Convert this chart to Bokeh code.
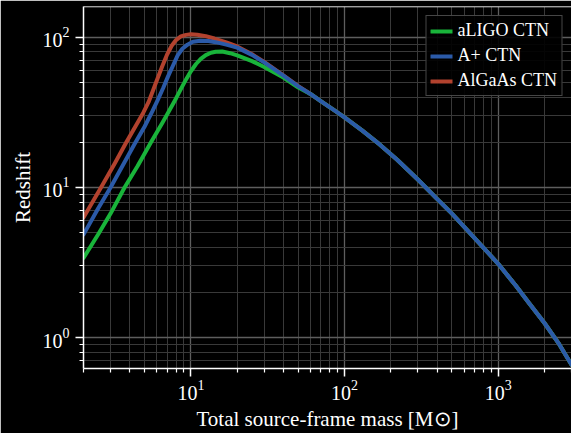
from bokeh.plotting import figure
from bokeh.models import FixedTicker, Legend, LegendItem, Span
from bokeh.embed import file_html
from bokeh.resources import INLINE

# ---- data ----
tail_mass = [60, 70, 85, 100, 130, 170, 220, 300, 400, 500, 700, 1000, 1300, 1600, 2000, 2500, 3000]
tail_z = [42.0, 37.6, 32.9, 29.3, 24.0, 19.3, 15.3, 11.3, 8.4, 6.7, 4.62, 3.1, 2.22, 1.68, 1.25, 0.9, 0.66]

aligo_mass = [2, 2.5, 3, 3.7, 4.5, 5.5, 6.5, 7.0, 7.5, 8.0, 8.6, 9.3, 10, 10.8, 11.6, 12.5, 13.5, 14.5, 16, 18, 20, 25, 30, 40, 50]
aligo_z = [3.39, 4.9, 6.7, 10, 13.9, 20, 26.8, 30.6, 34.8, 39.2, 45.2, 52.5, 59.5, 66.5, 72.0, 76.3, 79, 80.3, 80.5, 78.5, 76, 69.5, 63.5, 54, 46.4]

aplus_mass = [2, 2.5, 3.0, 3.6, 4.3, 5.0, 5.6, 6.1, 6.6, 7.1, 7.6, 8.2, 8.8, 9.5, 10.3, 11.5, 13, 14.5, 17, 20, 25, 30, 40, 50]
aplus_z = [4.85, 7.3, 10, 14, 19.5, 25.5, 32, 38.5, 46, 55, 64, 76, 84, 89.5, 93.5, 95, 94.5, 93, 89.5, 85.5, 76.5, 68.2, 55.6, 47.2]

algaas_mass = [2, 2.6, 3.2, 3.8, 4.4, 4.9, 5.3, 5.7, 6.1, 6.5, 7.0, 7.5, 8.0, 8.6, 9.3, 10, 11, 12.5, 14.2, 17, 20, 25, 30, 40, 50]
algaas_z = [6.3, 10, 14.5, 20, 26, 31.5, 37, 45, 54, 64, 77, 88, 96, 101.5, 104, 105, 104.3, 102, 98.3, 92.5, 87, 77.2, 68.7, 55.8, 47.4]

labels = ["aLIGO CTN", "A+ CTN", "AlGaAs CTN"]
colors = ["#19b43a", "#2b5aa8", "#b2422e"]

x_major = [10, 100, 1000]
y_major = [1, 10, 100]
x_minor = [m * 10 ** e for e in range(0, 4) for m in range(2, 10) if m * 10 ** e <= 3000]
y_minor = [m * 10.0 ** e for e in range(-1, 2) for m in range(2, 10)]

SERIF = "Liberation Serif"

p = figure(width=571, height=433, x_axis_type="log", y_axis_type="log",
           x_range=(2, 3000), y_range=(0.622, 160.7),
           output_backend="svg", toolbar_location=None,
           background_fill_color="black", border_fill_color="black",
           min_border_left=83, min_border_right=0, min_border_top=6, min_border_bottom=64)
p.outline_line_color = None

xt = FixedTicker(ticks=x_major, minor_ticks=x_minor)
yt = FixedTicker(ticks=y_major, minor_ticks=y_minor)
p.xaxis.ticker = xt
p.yaxis.ticker = yt
p.xgrid.ticker = xt
p.ygrid.ticker = yt

p.grid.grid_line_color = "#5e5e5e"
p.grid.grid_line_width = 1.3
p.grid.minor_grid_line_color = "#393939"
p.grid.minor_grid_line_width = 1

for ax in (p.xaxis, p.yaxis):
    ax.axis_line_color = "white"
    ax.axis_line_width = 1.5
    ax.major_tick_line_color = "white"
    ax.major_tick_line_width = 1.5
    ax.major_tick_out = 8
    ax.major_tick_in = 0
    ax.minor_tick_line_color = "white"
    ax.minor_tick_line_width = 1.2
    ax.minor_tick_out = 4
    ax.minor_tick_in = 0
    ax.major_label_text_color = "white"
    ax.major_label_text_font = SERIF
    ax.major_label_text_font_size = "20px"
    ax.axis_label_text_color = "white"
    ax.axis_label_text_font = SERIF
    ax.axis_label_text_font_size = "21px"
    ax.axis_label_text_font_style = "normal"

p.xaxis.axis_label = "Total source-frame mass [M\u2299]"
p.yaxis.axis_label = "Redshift"
p.xaxis.major_label_standoff = 3
p.yaxis.major_label_standoff = 6
p.xaxis.axis_label_standoff = 4
p.yaxis.axis_label_standoff = 5

r_red = p.line(algaas_mass + tail_mass, algaas_z + tail_z, line_color=colors[2], line_width=4,
               line_join="round", line_cap="round")
r_green = p.line(aligo_mass + tail_mass, aligo_z + tail_z, line_color=colors[0], line_width=4,
                 line_join="round", line_cap="round")
r_blue = p.line(aplus_mass + tail_mass, aplus_z + tail_z, line_color=colors[1], line_width=4,
                line_join="round", line_cap="round")

p.add_layout(Span(location=160.7, dimension="width", line_color="white", line_width=1.5))

legend = Legend(items=[LegendItem(label=labels[0], renderers=[r_green]),
                       LegendItem(label=labels[1], renderers=[r_blue]),
                       LegendItem(label=labels[2], renderers=[r_red])],
                location="top_right")
legend.margin = 9
legend.padding = 4
legend.spacing = 4
legend.label_standoff = 5
legend.glyph_width = 22
legend.glyph_height = 20
legend.label_height = 20
legend.label_text_font = SERIF
legend.label_text_font_size = "18px"
legend.label_text_color = "white"
legend.background_fill_color = "black"
legend.background_fill_alpha = 0.9
legend.border_line_color = "#8c8c8c"
legend.border_line_width = 1
p.add_layout(legend)

open("out.html", "w").write(file_html(p, INLINE))
